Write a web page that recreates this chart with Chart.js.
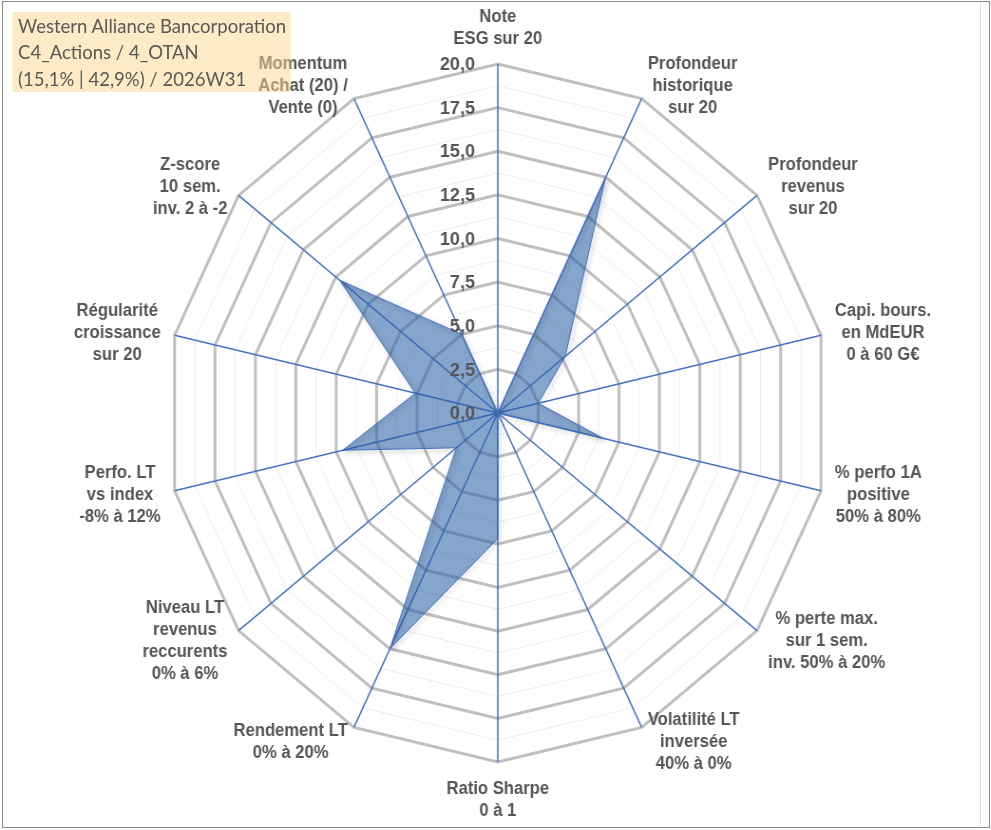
<!DOCTYPE html>
<html>
<head>
<meta charset="utf-8">
<script src="https://cdn.jsdelivr.net/npm/chart.js@4.4.1/dist/chart.umd.min.js"></script>
<style>
  html, body { margin:0; padding:0; background:#ffffff; overflow:hidden; }
  #frame { position:absolute; left:2px; top:1px; width:988px; height:827px; border:1px solid #8c8c8c; box-sizing:border-box; }
  #innerline { position:absolute; left:980px; top:2px; width:1px; height:824px; background:#e2e2e2; }
  #wrap { position:absolute; left:0; top:0; width:1043px; height:830px; transform:scaleX(0.95); transform-origin:0 0; }
  #c { position:absolute; left:0; top:0; }
  #title { position:absolute; left:13.4px; top:11.7px; width:293px; height:80px; box-sizing:border-box;
           background:rgba(252,215,140,0.5); color:#595959; font-family:Lato, "Open Sans", sans-serif;
           font-size:19.5px; line-height:26.5px; padding:1px 0 0 5.6px; white-space:nowrap; }
</style>
</head>
<body>
<div id="frame"></div>
<div id="innerline"></div>
<div id="wrap">
  <canvas id="c" width="1043" height="830"></canvas>
  <div id="title">Western Alliance Bancorporation<br>C4_Actions / 4_OTAN<br>(15,1% | 42,9%) / 2026W31</div>
</div>
<script>
const categories = [
  ["Note", "ESG sur 20"],
  ["Profondeur", "historique", "sur 20"],
  ["Profondeur", "revenus", "sur 20"],
  ["Capi. bours.", "en MdEUR", "0 à 60 G€"],
  ["% perfo 1A", "positive", "50% à 80%"],
  ["% perte max.", "sur 1 sem.", "inv. 50% à 20%"],
  ["Volatilité LT", "inversée", "40% à 0%"],
  ["Ratio Sharpe", "0 à 1"],
  ["Rendement LT", "0% à 20%"],
  ["Niveau LT", "revenus", "reccurents", "0% à 6%"],
  ["Perfo. LT", "vs index", "-8% à 12%"],
  ["Régularité", "croissance", "sur 20"],
  ["Z-score", "10 sem.", "inv. 2 à -2"],
  ["Momentum", "Achat (20) /", "Vente (0)"]
];
const seriesValues = [0, 15, 5.2, 2.5, 6.5, 0, 0, 7.2, 15, 3.2, 9.6, 5.1, 12.2, 5.0];
const tickValues = [0, 2.5, 5, 7.5, 10, 12.5, 15, 17.5, 20];
const tickLabels = ["0,0", "2,5", "5,0", "7,5", "10,0", "12,5", "15,0", "17,5", "20,0"];

const TEXT = '#555555';
const FONT = 'bold 17.5px "Liberation Sans", Arial, sans-serif';
const TICKFONT = 'bold 19px "Liberation Sans", Arial, sans-serif';

function isMajor(v) { return Math.abs(v / 2.5 - Math.round(v / 2.5)) < 1e-6; }

const shadowPlugin = {
  id: 'shadow',
  beforeDatasetDraw(chart) {
    const ctx = chart.ctx;
    ctx.save();
    ctx.shadowColor = 'rgba(0,0,0,0.45)';
    ctx.shadowBlur = 5;
    ctx.shadowOffsetX = 2;
    ctx.shadowOffsetY = 2;
  },
  afterDatasetDraw(chart) { chart.ctx.restore(); }
};

const labelsPlugin = {
  id: 'customLabels',
  afterDatasetsDraw(chart) {
    const ctx = chart.ctx;
    const s = chart.scales.r;
    ctx.save();
    ctx.font = TICKFONT;
    ctx.fillStyle = TEXT;
    ctx.textAlign = 'right';
    ctx.textBaseline = 'middle';
    tickValues.forEach((v, i) => {
      const y = s.yCenter - s.getDistanceFromCenterForValue(v);
      ctx.fillText(tickLabels[i], s.xCenter - 24, y + 1);
    });
    ctx.font = FONT;
    ctx.textAlign = 'center';
    ctx.textBaseline = 'middle';
    const lh = 22;
    chart.data.labels.forEach((lines, i) => {
      const p = s.getPointPosition(i, s.drawingArea + 15);
      const ang = s.getIndexAngle(i);
      const sn = Math.sin(ang), cs = Math.cos(ang);
      let w = 0;
      lines.forEach(t => { w = Math.max(w, ctx.measureText(t).width); });
      const h = lines.length * lh;
      let cx = p.x, cy = p.y;
      if (Math.abs(sn) < 1e-3) {
        cy += -cs * h / 2;
      } else {
        cx += Math.sign(sn) * w / 2;
      }
      lines.forEach((t, k) => {
        ctx.fillText(t, cx, cy - h / 2 + lh * (k + 0.5) + 1);
      });
    });
    ctx.restore();
  }
};

new Chart(document.getElementById('c'), {
  type: 'radar',
  data: {
    labels: categories,
    datasets: [{
      data: seriesValues,
      backgroundColor: 'rgba(40,95,165,0.56)',
      borderColor: '#4472C4',
      borderWidth: 1,
      pointRadius: 0,
      pointHoverRadius: 0,
      fill: true,
      tension: 0
    }]
  },
  options: {
    responsive: false,
    animation: false,
    layout: { padding: { left: 6, right: 0, top: 64, bottom: 68 } },
    plugins: { legend: { display: false }, tooltip: { enabled: false } },
    scales: {
      r: {
        min: 0,
        max: 20,
        beginAtZero: true,
        ticks: { stepSize: 1.25, display: false },
        grid: {
          circular: false,
          color: (c) => (c.tick && isMajor(c.tick.value)) ? '#BFBFBF' : '#EDEDED',
          lineWidth: (c) => (c.tick && isMajor(c.tick.value)) ? 3 : 1
        },
        angleLines: { color: '#4472C4', lineWidth: 1.5 },
        pointLabels: { display: false }
      }
    }
  },
  plugins: [shadowPlugin, labelsPlugin]
});
</script>
</body>
</html>
